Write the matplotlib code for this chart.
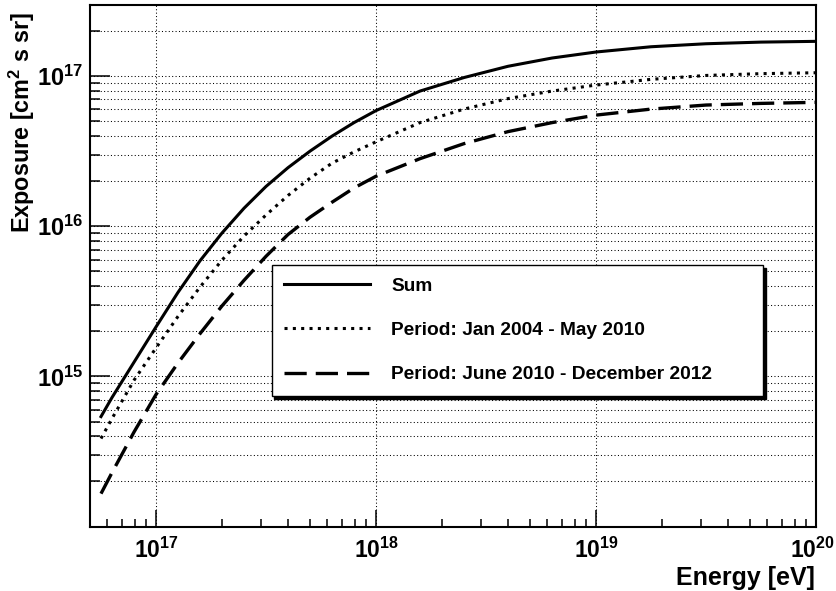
import numpy as np
import matplotlib
matplotlib.use("Agg")
import matplotlib.pyplot as plt
from matplotlib.ticker import LogLocator, FuncFormatter, NullFormatter
from matplotlib.transforms import offset_copy

plt.rcParams['font.family'] = 'Liberation Sans'
plt.rcParams['font.weight'] = 'bold'
plt.rcParams['mathtext.fontset'] = 'custom'
plt.rcParams['mathtext.rm'] = 'Liberation Sans:bold'
plt.rcParams['mathtext.bf'] = 'Liberation Sans:bold'
plt.rcParams['mathtext.it'] = 'Liberation Sans:bold'
plt.rcParams['lines.scale_dashes'] = False

# log10(E / eV)
log_energy = [16.75, 16.8, 16.9, 17.0, 17.1, 17.2, 17.3, 17.4, 17.5, 17.6, 17.7,
              17.8, 17.9, 18.0, 18.2, 18.4, 18.6, 18.8, 19.0, 19.25, 19.5, 19.75, 20.0]

# log10(exposure / cm^2 s sr)
log_sum = [14.733, 14.86, 15.095, 15.33, 15.56, 15.77, 15.955, 16.12, 16.265, 16.39, 16.50,
           16.60, 16.69, 16.77, 16.90, 16.99, 17.065, 17.12, 17.16, 17.195, 17.215, 17.226, 17.231]
log_period1 = [14.587, 14.72, 14.975, 15.19, 15.40, 15.595, 15.775, 15.935, 16.075, 16.205, 16.32,
               16.42, 16.495, 16.562, 16.69, 16.78, 16.85, 16.90, 16.94, 16.978, 17.004, 17.016, 17.022]
log_period2 = [14.22, 14.36, 14.63, 14.88, 15.09, 15.285, 15.47, 15.64, 15.80, 15.945, 16.06,
               16.16, 16.255, 16.333, 16.45, 16.55, 16.63, 16.69, 16.74, 16.78, 16.807, 16.818, 16.825]

labels = ['Sum', 'Period: Jan 2004 - May 2010', 'Period: June 2010 - December 2012']

energy = 10 ** np.array(log_energy)

fig = plt.figure(figsize=(8.37, 5.91), dpi=100)
ax = fig.add_axes([90 / 837, 1 - 526.7 / 591, (816 - 90) / 837, (526.7 - 5) / 591])

ax.plot(energy, 10 ** np.array(log_sum), color='black', lw=2.2, label=labels[0])
ax.plot(energy, 10 ** np.array(log_period1), color='black', lw=2.2,
        dashes=(2.2, 3.8), label=labels[1])
ax.plot(energy, 10 ** np.array(log_period2), color='black', lw=2.4,
        dashes=(16, 6.5), label=labels[2])

ax.set_xscale('log')
ax.set_yscale('log')
ax.set_xlim(10 ** 16.7, 1e20)
ax.set_ylim(1e14, 10 ** 17.473)

ax.xaxis.set_major_locator(LogLocator(base=10, numticks=10))
ax.xaxis.set_minor_locator(LogLocator(base=10, subs=np.arange(2, 10), numticks=20))
ax.yaxis.set_major_locator(LogLocator(base=10, numticks=10))
ax.yaxis.set_minor_locator(LogLocator(base=10, subs=np.arange(2, 10), numticks=20))


def fmt_pow(v, p):
    e = int(round(np.log10(v)))
    if e == 14:
        return ''
    return r'$10^{%d}$' % e


ax.xaxis.set_major_formatter(FuncFormatter(fmt_pow))
ax.yaxis.set_major_formatter(FuncFormatter(fmt_pow))
ax.xaxis.set_minor_formatter(NullFormatter())
ax.yaxis.set_minor_formatter(NullFormatter())

ax.tick_params(axis='x', which='major', direction='in', length=12, width=1.1,
               labelsize=16.5, pad=8, top=False)
ax.tick_params(axis='x', which='minor', direction='in', length=5.5, width=1.1, top=False)
ax.tick_params(axis='y', which='major', direction='in', length=14.4, width=1.1,
               labelsize=17, pad=5, right=False)
ax.tick_params(axis='y', which='minor', direction='in', length=7.2, width=1.1, right=False)

for s in ax.spines.values():
    s.set_linewidth(1.5)

grid_style = dict(color='black', linewidth=0.75, linestyle=(0, (0.75, 1.7)))
ax.xaxis.grid(True, which='major', **grid_style)
ax.yaxis.grid(True, which='both', **grid_style)

leg = ax.legend(loc='upper left',
                bbox_to_anchor=(271.7 / 837, 1 - 265 / 591, (763 - 271.7) / 837, 0),
                bbox_transform=fig.transFigure, mode='expand', borderaxespad=0,
                fancybox=False, framealpha=1, edgecolor='black',
                shadow={'color': 'black', 'alpha': 1},
                prop={'size': 13.8, 'weight': 'bold'},
                handlelength=4.5, handletextpad=1.1, borderpad=0.65, labelspacing=1.4)
leg.get_frame().set_linewidth(1.0)

fig.text(815 / 837, 1 - 585 / 591, 'Energy [eV]', ha='right', va='baseline',
         fontsize=18, fontweight='bold')
fig.text(22 / 837, 1 - 12 / 591, r'Exposure [cm$^{2}$ s sr]', rotation=90,
         ha='center', va='top', fontsize=16.8, fontweight='bold')

# keep the 10^20 label inside the canvas
fig.canvas.draw()
for tick in ax.xaxis.get_major_ticks():
    if abs(np.log10(tick.get_loc()) - 20) < 1e-6:
        lab = tick.label1
        lab.set_transform(offset_copy(lab.get_transform(), fig=fig, x=-4, y=0, units='dots'))

fig.savefig('out.png', dpi=100)
